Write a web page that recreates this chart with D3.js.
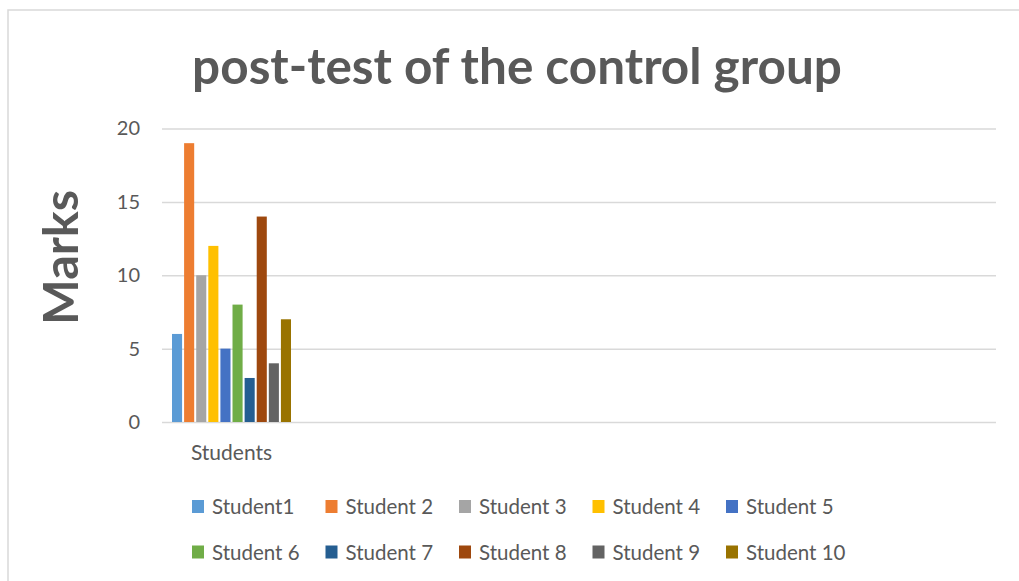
<!DOCTYPE html>
<html>
<head>
<meta charset="utf-8">
<script src="https://cdn.jsdelivr.net/npm/d3@7"></script>
<style>
  body { margin: 0; background: #fff; }
  text { font-family: Lato, "Open Sans", sans-serif; fill: #595959; }
</style>
</head>
<body>
<svg id="chart"></svg>
<script>
// chart data
const categories = ['Students', '', '', '', '', ''];
const seriesNames = ['Student1', 'Student 2', 'Student 3', 'Student 4', 'Student 5',
                     'Student 6', 'Student 7', 'Student 8', 'Student 9', 'Student 10'];
const marks = [6, 19, 10, 12, 5, 8, 3, 14, 4, 7];
const seriesColors = ['#5B9BD5', '#ED7D31', '#A5A5A5', '#FFC000', '#4472C4',
                      '#70AD47', '#255E91', '#9E480E', '#636363', '#997300'];
const yTicks = [0, 5, 10, 15, 20];
const titleText = 'post-test of the control group';
const yLabel = 'Marks';

const w = 1019;
const h = 581;
const plot = {left: 162, right: 996, top: 128.5, bottom: 422};

const svg = d3.select('#chart')
    .attr('width', w)
    .attr('height', h);

svg.append('rect')
    .attr('width', w).attr('height', h)
    .attr('fill', '#fff');

// chart frame (runs off the right/bottom edge)
svg.append('rect')
    .attr('x', 8).attr('y', 10)
    .attr('width', w + 20).attr('height', h + 20)
    .attr('fill', 'none')
    .attr('stroke', '#d9d9d9')
    .attr('stroke-width', 1.5);

// shrink/grow a text node until it fills the given width
const fitText = (sel, target) => {
    const size = parseFloat(sel.style('font-size'));
    const len = sel.node().getComputedTextLength();
    sel.style('font-size', (size * target / len) + 'px');
};

const y = d3.scaleLinear().domain([0, 20]).range([plot.bottom, plot.top]);
const x0 = d3.scaleBand()
    .domain(d3.range(categories.length))
    .range([plot.left, plot.right]);
const x1 = d3.scaleBand()
    .domain(seriesNames)
    .range([10, x0.bandwidth() - 10])
    .paddingInner(2 / 12);
const color = d3.scaleOrdinal().domain(seriesNames).range(seriesColors);

// gridlines + tick labels
const yAxis = svg.append('g')
    .attr('transform', `translate(${plot.left},0)`)
    .call(d3.axisLeft(y)
        .tickValues(yTicks)
        .tickSize(-(plot.right - plot.left))
        .tickPadding(22));
yAxis.select('.domain').remove();
yAxis.selectAll('.tick line')
    .attr('stroke', '#d9d9d9')
    .attr('stroke-width', 1.5);
yAxis.selectAll('.tick text')
    .attr('fill', '#595959')
    .style('font-family', 'Lato, sans-serif')
    .style('font-size', '20px');

// bars (only the first category holds data)
const group = svg.append('g')
    .attr('transform', `translate(${x0(0)},0)`);
group.selectAll('rect')
    .data(seriesNames.map((name, i) => ({name, value: marks[i]})))
    .join('rect')
        .attr('x', d => x1(d.name))
        .attr('width', x1.bandwidth())
        .attr('y', d => y(d.value))
        .attr('height', d => y(0) - y(d.value))
        .attr('fill', d => color(d.name));

// category labels
svg.append('g')
    .selectAll('text')
    .data(categories)
    .join('text')
        .attr('x', (d, i) => x0(i) + x0.bandwidth() / 2)
        .attr('y', 460)
        .attr('text-anchor', 'middle')
        .style('font-size', '21px')
        .text(d => d);

// title
const title = svg.append('text')
    .attr('x', 517)
    .attr('y', 84)
    .attr('text-anchor', 'middle')
    .style('font-size', '48px')
    .style('font-weight', 'bold')
    .text(titleText);
fitText(title, 650);

// y axis title
const yTitle = svg.append('text')
    .attr('transform', 'translate(78,257.5) rotate(-90)')
    .attr('text-anchor', 'middle')
    .style('font-size', '52px')
    .style('font-weight', 'bold')
    .text(yLabel);
fitText(yTitle, 135);

// legend, two rows of five
const legendCols = [192, 325.5, 459, 592.5, 726];
const legendRows = [506.5, 552];
const legend = svg.append('g')
    .selectAll('g')
    .data(seriesNames)
    .join('g')
        .attr('transform', (d, i) => `translate(${legendCols[i % 5]},${legendRows[Math.floor(i / 5)]})`);
legend.append('rect')
    .attr('x', 0).attr('y', -6.5)
    .attr('width', 12).attr('height', 13)
    .attr('fill', d => color(d));
legend.append('text')
    .attr('x', 20)
    .attr('y', 7.5)
    .style('font-size', '20.5px')
    .text(d => d);
</script>
</body>
</html>
